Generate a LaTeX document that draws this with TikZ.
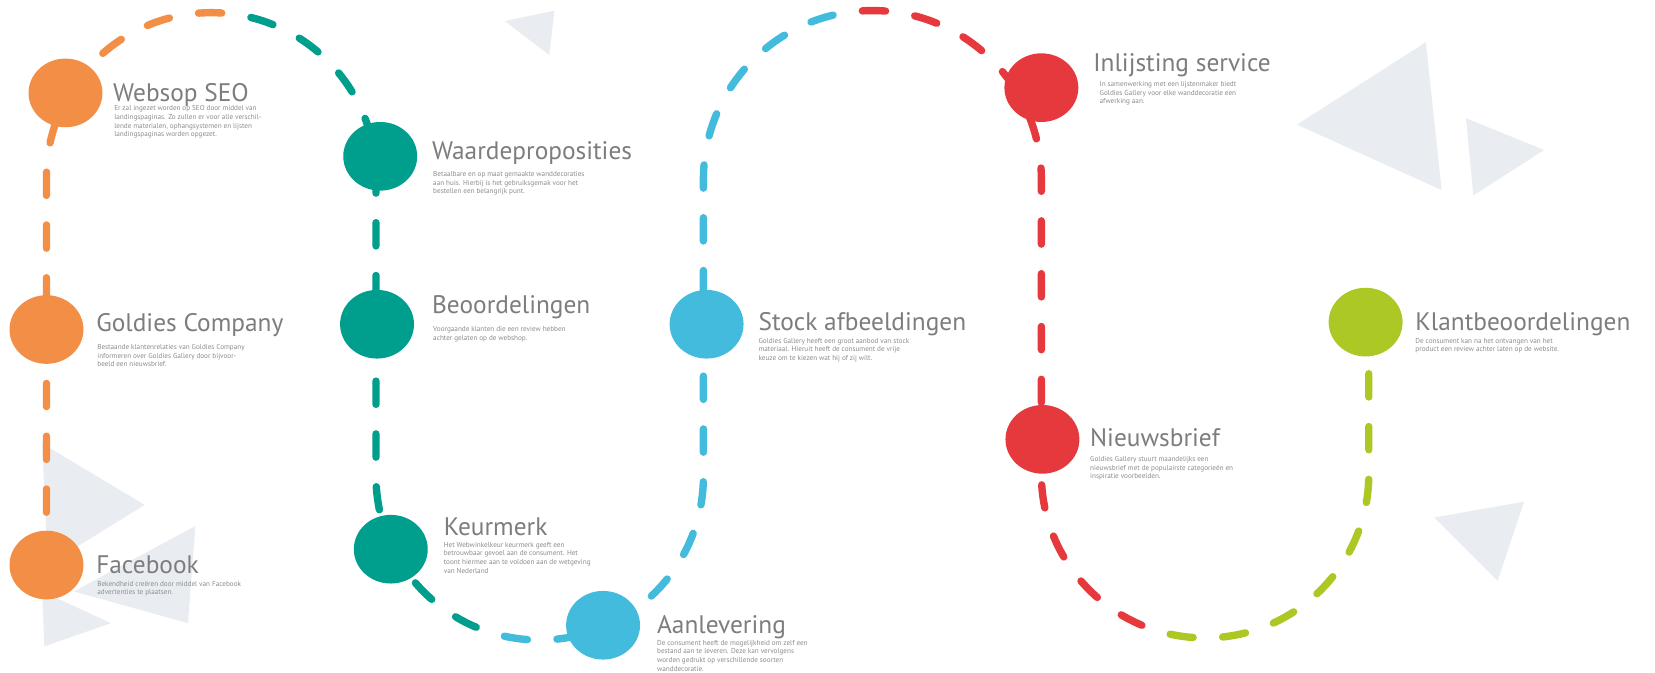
\documentclass[tikz,border=0pt]{standalone}
\usepackage{fontspec}
\setmainfont{PT Sans}
\usetikzlibrary{shapes.geometric,calc}
\definecolor{cOrange}{RGB}{242,142,70}
\definecolor{cTeal}{RGB}{0,158,140}
\definecolor{cBlue}{RGB}{66,187,221}
\definecolor{cRed}{RGB}{230,57,62}
\definecolor{cGreen}{RGB}{172,200,36}
\definecolor{cTitle}{RGB}{125,125,125}
\definecolor{cDesc}{RGB}{140,140,140}
\definecolor{cTri}{RGB}{233,237,241}
\def\roadpath{(44,102) -- (44,469) arc[start angle=180,end angle=0,radius=156] -- (356,186) arc[start angle=180,end angle=360,radius=155] -- (666,467) arc[start angle=180,end angle=0,radius=160] -- (986,188) arc[start angle=180,end angle=360,radius=155] -- (1296,292)}
\begin{document}
\begin{tikzpicture}[x=1pt,y=1pt,
  road/.style={line width=7pt, line cap=round, dash pattern=on 22pt off 28pt},
  dot/.style={ellipse, minimum width=70pt, minimum height=65pt, inner sep=0pt},
  ttl/.style={anchor=base west, inner sep=0pt, text=cTitle, font=\fontsize{24}{28}\selectfont},
  dsc/.style={anchor=north west, inner sep=0pt, align=left, text=cDesc, font=\fontsize{6.8}{8.2}\selectfont},
  tri/.style={fill=cTri}]
\useasboundingbox (0,0) rectangle (1567,637);
\fill[white] (0,0) rectangle (1567,637);
% background triangles
\fill[tri] (478,617) -- (525,627) -- (520,585) -- cycle;
\fill[tri] (1228,519) -- (1350,597) -- (1365,457) -- cycle;
\fill[tri] (1388,525) -- (1462,495) -- (1395,452) -- cycle;
\fill[tri] (1358,147) -- (1443,162) -- (1418,87) -- cycle;
\fill[tri] (40,217) -- (137,159) -- (45,102) -- cycle;
\fill[tri] (185,139) -- (178,47) -- (70,77) -- cycle;
\fill[tri] (40,77) -- (105,47) -- (42,25) -- cycle;
% road, one dash phase, coloured by strips
\begin{scope}\clip (-20,-20) rectangle (224,660); \draw[road,cOrange] \roadpath; \end{scope}
\begin{scope}\clip (224,-20) rectangle (464,660); \draw[road,cTeal] \roadpath; \end{scope}
\begin{scope}\clip (464,-20) rectangle (805,660); \draw[road,cBlue] \roadpath; \end{scope}
\begin{scope}\clip (805,-20) rectangle (1095,660); \draw[road,cRed] \roadpath; \end{scope}
\begin{scope}\clip (1095,-20) rectangle (1600,660); \draw[road,cGreen] \roadpath; \end{scope}
% milestones
\node[dot,fill=cOrange] (websop) at (62,549) {};
\node[dot,fill=cTeal] (waarde) at (360,489) {};
\node[dot,fill=cOrange] (goldies) at (44,325) {};
\node[dot,fill=cTeal] (beoord) at (357,330) {};
\node[dot,fill=cTeal] (keur) at (370,117) {};
\node[dot,fill=cOrange] (facebook) at (44,102) {};
\node[dot,fill=cBlue] (aanlev) at (571,45) {};
\node[dot,fill=cBlue] (stock) at (669,330) {};
\node[dot,fill=cRed] (inlijst) at (986,554) {};
\node[dot,fill=cRed] (nieuws) at (987,221) {};
\node[dot,fill=cGreen] (klant) at (1293,332) {};
% titles
\node[ttl] (websopT) at (107,541) {Websop SEO};
\node[ttl] (waardeT) at (409,486) {Waardeproposities};
\node[ttl] (goldiesT) at (91,323) {Goldies Company};
\node[ttl] (beoordT) at (409,340) {Beoordelingen};
\node[ttl] (keurT) at (420,130) {Keurmerk};
\node[ttl] (facebookT) at (91,94) {Facebook};
\node[ttl] (aanlevT) at (622,37) {Aanlevering};
\node[ttl] (stockT) at (718,324) {Stock afbeeldingen};
\node[ttl] (inlijstT) at (1035,569) {Inlijsting service};
\node[ttl] (nieuwsT) at (1032,214) {Nieuwsbrief};
\node[ttl] (klantT) at (1340,324) {Klantbeoordelingen};
% descriptions
\node[dsc] (websopD) at (108,537) {Er zal ingezet worden op SEO door middel van\\landingspaginas. Zo zullen er voor alle verschil-\\lende materialen, ophangsystemen en lijsten\\landingspaginas worden opgezet.};
\node[dsc] (waardeD) at (410,475) {Betaalbare en op maat gemaakte wanddecoraties\\aan huis. Hierbij is het gebruiksgemak voor het\\bestellen een belangrijk punt.};
\node[dsc] (goldiesD) at (92,311) {Bestaande klantenrelaties van Goldies Company\\informeren over Goldies Gallery door bijvoor-\\beeld een nieuwsbrief.};
\node[dsc] (beoordD) at (410,328) {Voorgaande klanten die een review hebben\\achter gelaten op de webshop.};
\node[dsc] (keurD) at (420,124) {Het Webwinkelkeur keurmerk geeft een\\betrouwbaar gevoel aan de consument. Het\\toont hiermee aan te voldoen aan de wetgeving\\van Nederland};
\node[dsc] (facebookD) at (92,87) {Bekendheid creëren door middel van Facebook\\advertenties te plaatsen.};
\node[dsc] (aanlevD) at (622,31) {De consument heeft de mogelijkheid om zelf een\\bestand aan te leveren. Deze kan vervolgens\\worden gedrukt op verschillende soorten\\wanddecoratie.};
\node[dsc] (stockD) at (718,317) {Goldies Gallery heeft een groot aanbod van stock\\materiaal. Hieruit heeft de consument de vrije\\keuze om te kiezen wat hij of zij wilt.};
\node[dsc] (inlijstD) at (1041,560) {In samenwerking met een lijstenmaker biedt\\Goldies Gallery voor elke wanddecoratie een\\afwerking aan.};
\node[dsc] (nieuwsD) at (1032,205) {Goldies Gallery stuurt maandelijks een\\nieuwsbrief met de populairste categorieën en\\inspiratie voorbeelden.};
\node[dsc] (klantD) at (1340,317) {De consument kan na het ontvangen van het\\product een review achter laten op de website.};
\end{tikzpicture}
\end{document}
